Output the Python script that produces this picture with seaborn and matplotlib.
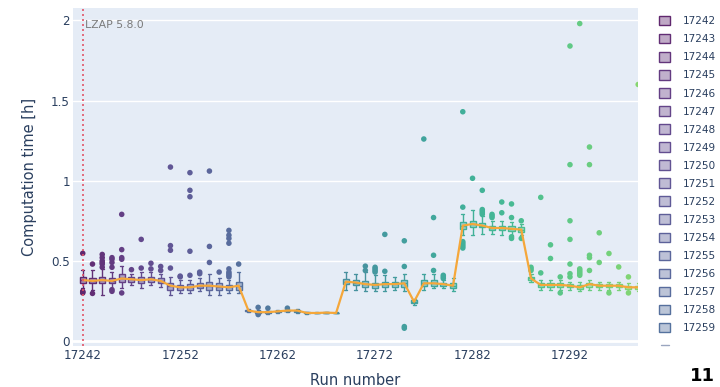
import numpy as np
import matplotlib
matplotlib.use("Agg")
import matplotlib.pyplot as plt
import seaborn as sns
from matplotlib.patches import Patch
from matplotlib.lines import Line2D
from matplotlib import colormaps

# ---------------- data ----------------
runs = list(range(17242, 17300))
lo = [.33, .32, .29, .33, .33, .35, .33, .35, .34, .29, .30, .30, .31, .29, .29, .30, .30,
      .18, .17, .17, .175, .18, .175, .17, .172, .175, .172,
      .32, .32, .31, .31, .31, .32, .31, .225, .32, .33, .33, .31,
      .66, .66, .67, .67, .66, .66, .66,
      .37, .32, .32, .32, .32, .31, .32, .32, .32, .32, .31, .31]
q1 = [.36, .36, .36, .36, .37, .37, .36, .37, .36, .32, .32, .32, .33, .32, .32, .32, .32,
      .185, .175, .175, .18, .185, .18, .172, .173, .176, .174,
      .355, .35, .34, .33, .34, .34, .34, .235, .345, .345, .345, .33,
      .70, .71, .71, .695, .69, .685, .68,
      .38, .34, .335, .335, .335, .325, .34, .335, .335, .335, .325, .325]
med = [.38, .375, .38, .375, .39, .385, .38, .385, .375, .345, .335, .335, .345, .345, .34, .335, .345,
       .19, .18, .18, .185, .19, .19, .175, .175, .177, .175,
       .37, .365, .355, .35, .355, .355, .36, .245, .36, .36, .355, .345,
       .72, .73, .72, .705, .705, .70, .695,
       .39, .35, .35, .35, .345, .335, .355, .345, .345, .345, .335, .335]
q3 = [.40, .39, .40, .39, .42, .40, .40, .40, .39, .36, .35, .355, .36, .37, .36, .35, .37,
      .195, .19, .185, .19, .195, .195, .178, .177, .178, .176,
      .385, .38, .375, .365, .37, .37, .38, .255, .38, .38, .365, .36,
      .74, .75, .735, .72, .72, .715, .71,
      .40, .36, .36, .36, .355, .35, .365, .355, .355, .355, .345, .345]
hi = [.44, .44, .45, .43, .47, .42, .43, .43, .42, .40, .38, .38, .39, .42, .39, .38, .43,
      .20, .195, .19, .195, .20, .20, .18, .178, .179, .178,
      .43, .42, .43, .41, .41, .40, .42, .265, .42, .42, .38, .39,
      .79, .82, .78, .75, .75, .74, .73,
      .42, .38, .38, .38, .37, .37, .38, .37, .37, .37, .36, .36]

outliers = {
    17242: [0.547, 0.31, 0.305, 0.30], 17243: [0.48, 0.297],
    17244: [0.54, 0.52, 0.50, 0.49, 0.48, 0.46], 17245: [0.52, 0.51, 0.49, 0.46, 0.32, 0.31],
    17246: [0.79, 0.57, 0.52, 0.51, 0.30], 17247: [0.445], 17248: [0.634, 0.455],
    17249: [0.485, 0.45], 17250: [0.465, 0.44], 17251: [1.085, 0.595, 0.566, 0.455],
    17252: [0.405, 0.40], 17253: [1.05, 0.94, 0.90, 0.56, 0.41], 17254: [0.43, 0.42],
    17255: [1.06, 0.59, 0.49], 17256: [0.43],
    17257: [0.69, 0.66, 0.64, 0.61, 0.45, 0.43, 0.42, 0.41, 0.40], 17258: [0.48],
    17260: [0.21, 0.165], 17261: [0.205], 17263: [0.205],
    17271: [0.467, 0.44], 17272: [0.46, 0.45, 0.44, 0.43], 17273: [0.665, 0.435],
    17275: [0.625, 0.465, 0.09, 0.08], 17277: [1.26], 17278: [0.77, 0.535, 0.44],
    17279: [0.41, 0.40, 0.39], 17281: [1.43, 0.835, 0.62, 0.61, 0.60, 0.59, 0.58],
    17282: [1.015], 17283: [0.94, 0.82, 0.81, 0.80, 0.79], 17284: [0.79, 0.78, 0.77],
    17285: [0.867, 0.80], 17286: [0.855, 0.77, 0.65, 0.64], 17287: [0.75, 0.64],
    17288: [0.46, 0.45, 0.44], 17289: [0.896, 0.425], 17290: [0.60, 0.515],
    17291: [0.40, 0.30], 17292: [1.84, 1.10, 0.75, 0.634, 0.48, 0.42, 0.40],
    17293: [1.98, 0.45, 0.44, 0.43, 0.42, 0.41], 17294: [1.21, 1.10, 0.535, 0.52, 0.44],
    17295: [0.675, 0.49], 17296: [0.546, 0.30], 17297: [0.462], 17298: [0.40, 0.30],
    17299: [1.60],
}
legend_runs = runs[:18]
yticks = [0, 0.5, 1, 1.5, 2]
ytick_labels = ["0", "0.5", "1", "1.5", "2"]
xticks = [17242, 17252, 17262, 17272, 17282, 17292]
release_run = 17242
release_label = "LZAP 5.8.0"

# ---------------- style ----------------
sns.set_theme(style="darkgrid", rc={"axes.facecolor": "#E5ECF6", "grid.color": "white"})
plt.rcParams["font.family"] = ["DejaVu Sans"]

cmap = colormaps["viridis"]
def run_color(r):
    frac = ((r - 17242) / 76) ** 0.85
    c = np.array(cmap(frac)[:3])
    return tuple(c * 0.85 + 0.15)

palette = {r: run_color(r) for r in runs}

fig = plt.figure(figsize=(7.2, 3.87), dpi=100)
ax = fig.add_axes([72.7 / 720, 1 - 346 / 387, (638 - 72.7) / 720, (346 - 8) / 387])

for i, r in enumerate(runs):
    c = palette[r]
    sns.boxplot(x=[r] * 5, y=[lo[i], q1[i], med[i], q3[i], hi[i]], orient="x",
                native_scale=True, whis=np.inf, width=0.62, color=c, linecolor=c,
                saturation=1, linewidth=1.0, boxprops=dict(facecolor=(*c, 0.45)),
                ax=ax, zorder=3)

o_x = [r for r, vals in outliers.items() for _ in vals]
o_y = [v for vals in outliers.values() for v in vals]
sns.scatterplot(x=o_x, y=o_y, hue=o_x, palette=palette, legend=False, s=16,
                edgecolor="none", ax=ax, zorder=4)

sns.lineplot(x=runs, y=med, color="#F5A73A", lw=1.6, ax=ax, zorder=5)

ax.axvline(release_run, color="#E25468", ls=(0, (1.2, 1.8)), lw=1.2, zorder=6)
ax.text(release_run + 0.2, 2.0, release_label, color="#7a7a7a", fontsize=7.8,
        va="top", ha="left", zorder=7)

ax.set_xlim(17240.97, 17298.98)
ax.set_ylim(-0.031, 2.077)
ax.set_yticks(yticks)
ax.set_yticklabels(ytick_labels)
ax.set_xticks(xticks)
ax.set_xticklabels([str(t) for t in xticks])
ax.xaxis.grid(False)
ax.yaxis.grid(True, color="white", lw=1.0)
ax.axhline(0, color="white", lw=2, zorder=1)
for s in ax.spines.values():
    s.set_visible(False)
ax.tick_params(axis="both", length=0, labelsize=8.6, colors="#2a3f5f", pad=2)
ax.set_xlabel("Run number", fontsize=10.5, color="#2a3f5f", labelpad=8)
ax.set_ylabel("Computation time [h]", fontsize=10.5, color="#2a3f5f", labelpad=10)

handles = [Patch(facecolor=(*palette[r], 0.4), edgecolor=palette[r], lw=1.0) for r in legend_runs]
fig.legend(handles, [str(r) for r in legend_runs], loc="upper left",
           bbox_to_anchor=(659 / 720, 1 - 16 / 387), frameon=False, fontsize=7.6,
           handlelength=1.0, handleheight=1.0, handletextpad=1.3, labelspacing=0.73,
           borderpad=0, borderaxespad=0, labelcolor="#2a3f5f")
fig.add_artist(Line2D([661 / 720, 669 / 720], [1 - 345 / 387] * 2, color="#9aa6c0", lw=1))

fig.text(690 / 720, 2 / 387, "11", fontsize=13, fontweight="bold", color="black",
         ha="left", va="bottom")

fig.savefig("out.png", dpi=100)
